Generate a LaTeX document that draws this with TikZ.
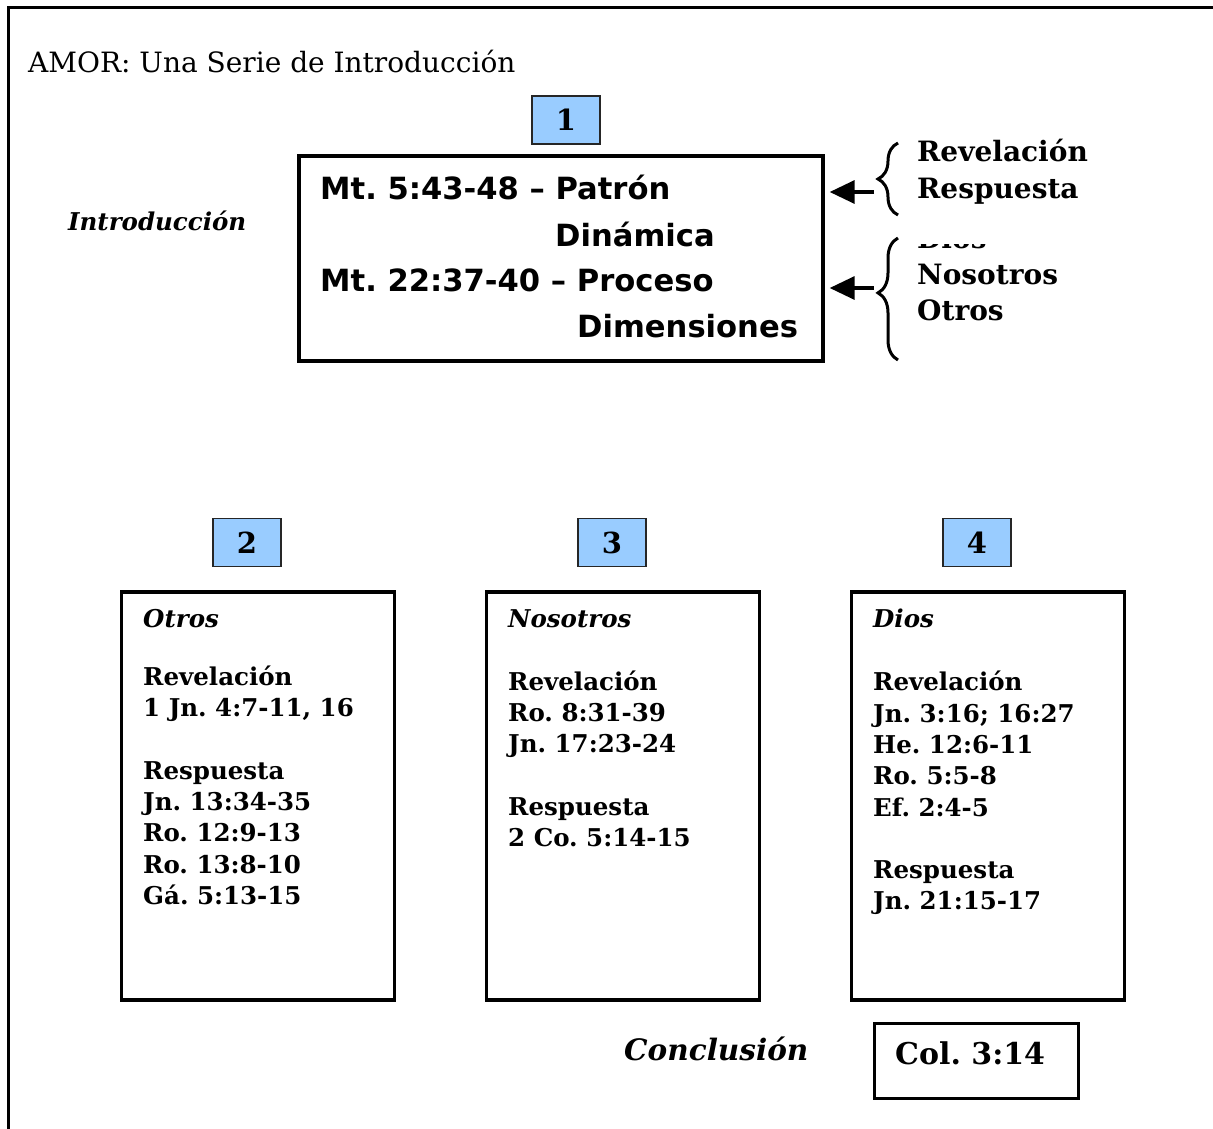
\documentclass[tikz,border=0pt]{standalone}
\usepackage{fontspec}
\setmainfont{DejaVu Serif}
\newfontfamily\versefont{DejaVu Sans}
\usetikzlibrary{positioning,calc,arrows.meta,decorations.pathreplacing}

\definecolor{numblue}{HTML}{99CCFF}

\tikzset{
  numbox/.style={draw=black!85, line width=1.8pt, fill=numblue, minimum width=68pt, minimum height=48pt, inner sep=0pt, font=\fontsize{29}{30}\selectfont\bfseries},
  topicbox/.style={draw, line width=3.4pt, minimum width=273pt, minimum height=408pt, inner sep=0pt},
  boxtext/.style={anchor=north west, align=left, inner sep=0pt, font=\fontsize{24.5}{31.3}\selectfont\bfseries},
  mttext/.style={anchor=base west, inner sep=0pt, font=\versefont\fontsize{30.6}{34}\selectfont\bfseries},
  sidetext/.style={anchor=base west, inner sep=0pt, font=\fontsize{28}{30}\selectfont\bfseries},
  brc/.style={decorate, decoration={brace, amplitude=20pt, aspect=#1}, line width=3pt},
  pointer/.style={-{Triangle[length=25pt, width=23pt]}, line width=3.4pt, shorten >=5pt},
}

\begin{document}
\frenchspacing
\begin{tikzpicture}[x=1pt, y=-1pt]
  \useasboundingbox (0,0) rectangle (1213,1129);
  % outer frame
  \draw[line width=3.4pt] (8.5,1129) -- (8.5,7.5) -- (1213,7.5);

  % title
  \node[anchor=base west, inner sep=0pt, font=\fontsize{28}{32}\selectfont] (title) at (28,73) {AMOR: Una Serie de Introducción};

  % Introduction block
  \node[anchor=base west, inner sep=0pt, font=\fontsize{24.5}{28}\selectfont\bfseries\itshape] (introlbl) at (68,230) {Introducción};
  \node[numbox] (n1) at (566,120) {1};
  \node[draw, line width=3.4pt, minimum width=524pt, minimum height=205pt, inner sep=0pt] (intro) at (561,258.5) {};
  \node[mttext] (mt1) at (320,200) {Mt. 5:43-48 – Patrón};
  \node[mttext] (din) at (555,246) {Dinámica};
  \node[mttext] (mt2) at (320,291) {Mt. 22:37-40 – Proceso};
  \node[mttext] (dim) at (577,337) {Dimensiones};

  % braces and pointers
  \draw[brc=0.5] (898,215) -- (898,143);
  \draw[brc=0.55] (898,360) -- (898,238);
  \coordinate (arrA) at (874,192);
  \coordinate (arrB) at (874,288);
  \draw[pointer] (arrA) -- (arrA -| intro.east);
  \draw[pointer] (arrB) -- (arrB -| intro.east);
  \node[sidetext] (rev) at (917,162) {Revelación};
  \node[sidetext] (resp) at (917,198) {Respuesta};
  \begin{scope}
    \clip (905,244) rectangle (1100,260);
    \node[sidetext] (dios) at (917,248) {Dios};
  \end{scope}
  \node[sidetext] (nos) at (917,284) {Nosotros};
  \node[sidetext] (otr) at (917,320) {Otros};

  % three topics
  \foreach \n/\x in {2/247, 3/612, 4/977} {
    \node[numbox] (n\n) at (\x,542.5) {\n};
    \node[topicbox] (t\n) at (\x+11,796) {};
  }
  \node[boxtext] (otros) at (143,609) {\textit{Otros}\\[26.7pt]
    Revelación\\ 1 Jn. 4:7-11, 16\\[31.3pt]
    Respuesta\\ Jn. 13:34-35\\ Ro. 12:9-13\\ Ro. 13:8-10\\ Gá. 5:13-15};
  \node[boxtext] (nosotros) at (508,609) {\textit{Nosotros}\\[31.7pt]
    Revelación\\ Ro. 8:31-39\\ Jn. 17:23-24\\[31.7pt]
    Respuesta\\ 2 Co. 5:14-15};
  \node[boxtext] (diosbox) at (873,609) {\textit{Dios}\\[31.7pt]
    Revelación\\ Jn. 3:16; 16:27\\ He. 12:6-11\\ Ro. 5:5-8\\ Ef. 2:4-5\\[31pt]
    Respuesta\\ Jn. 21:15-17};

  % conclusion
  \node[anchor=base west, inner sep=0pt, font=\fontsize{29.5}{32}\selectfont\bfseries\itshape] (concl) at (624,1060) {Conclusión};
  \node[draw, line width=3.4pt, minimum width=204pt, minimum height=75pt, inner sep=0pt] (col) at (976.5,1061) {};
  \node[anchor=base west, inner sep=0pt, font=\fontsize{30}{34}\selectfont\bfseries] (coltxt) at (895,1064) {Col. 3:14};
\end{tikzpicture}
\end{document}
